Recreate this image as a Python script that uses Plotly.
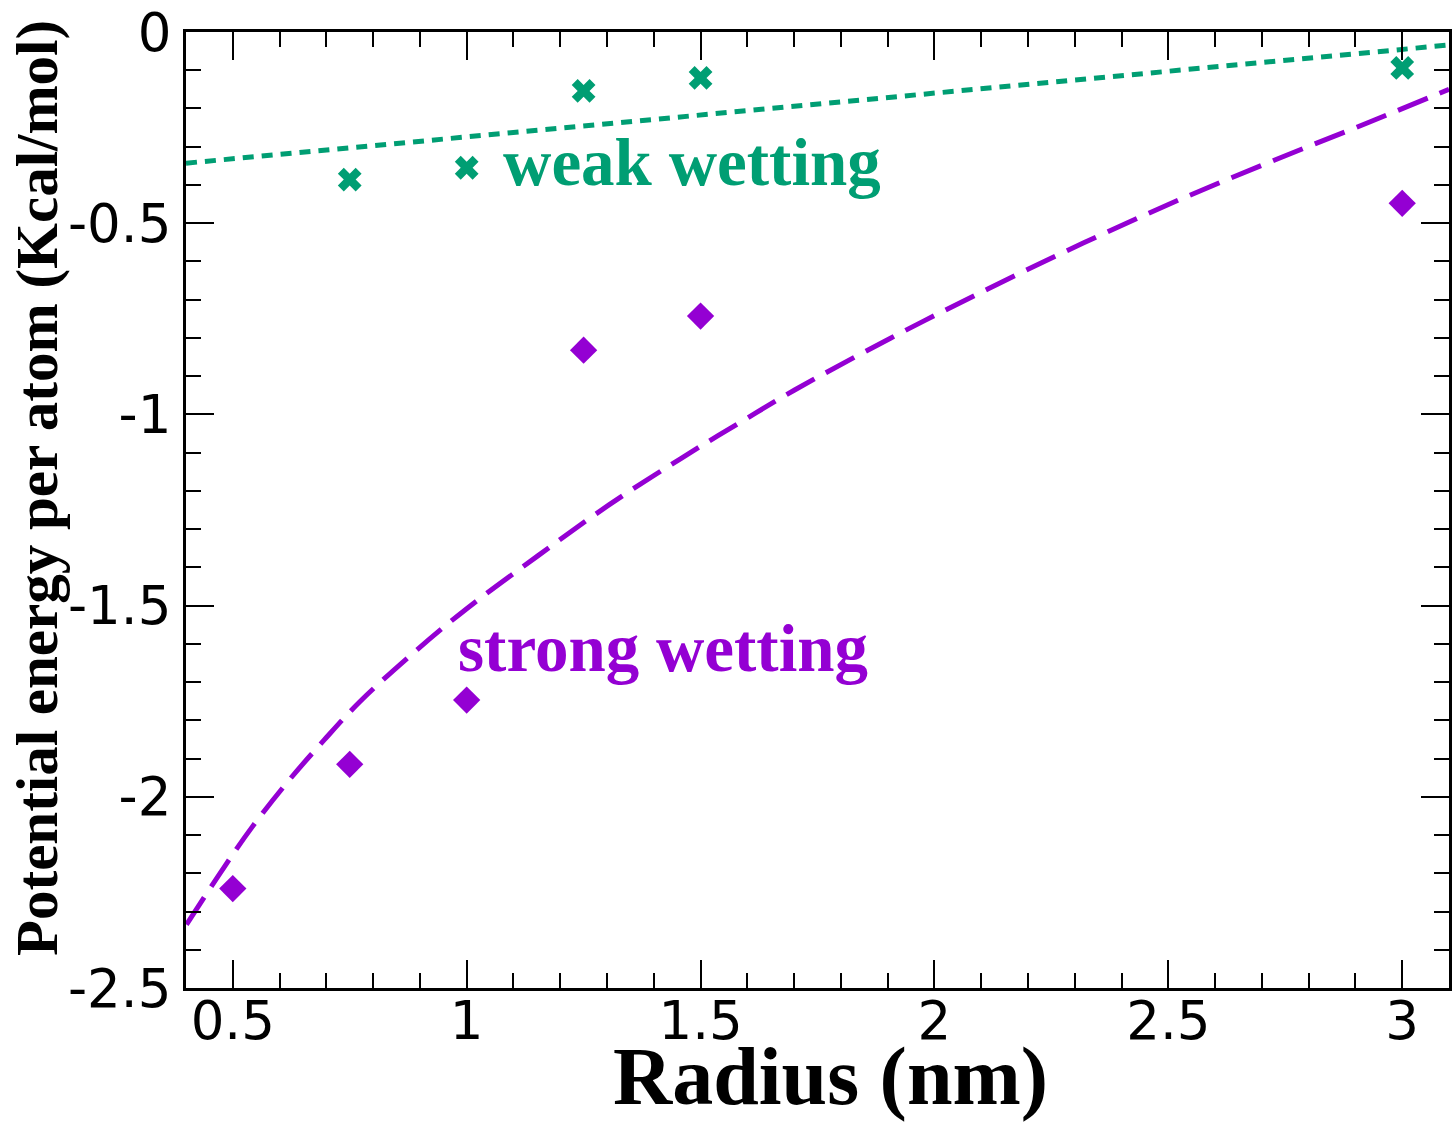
import plotly.graph_objects as go

# ---- data ----
radius = [0.5, 0.75, 1.0, 1.25, 1.5, 3.0]
strong_energy = [-2.24, -1.915, -1.747, -0.832, -0.743, -0.448]

weak_radius = [0.75, 1.0, 1.25, 1.5, 3.0]
weak_energy = [-0.386, -0.355, -0.154, -0.12, -0.094]

# fitted curves
strong_fit_x = [0.401, 0.481, 0.542, 0.618, 0.695, 0.771, 0.885, 1.0, 1.152, 1.305,
                1.457, 1.579, 1.703, 1.907, 2.114, 2.318, 2.521, 2.725, 2.929, 3.1]
strong_fit_y = [-2.334, -2.185, -2.078, -1.960, -1.852, -1.752, -1.625, -1.508, -1.370, -1.236,
                -1.116, -1.025, -0.935, -0.800, -0.672, -0.552, -0.440, -0.336, -0.236, -0.150]

weak_fit_x = [0.4, 1.18, 1.5, 2.354, 3.1]
weak_fit_y = [-0.343, -0.254, -0.217, -0.119, -0.034]

x_tickvals = [0.5, 1.0, 1.5, 2.0, 2.5, 3.0]
x_ticktext = ["0.5", "1", "1.5", "2", "2.5", "3"]
y_tickvals = [0, -0.5, -1.0, -1.5, -2.0, -2.5]
y_ticktext = ["0", "-0.5", "-1", "-1.5", "-2", "-2.5"]

PURPLE = "#9400d3"
GREEN = "#009e73"

fig = go.Figure()

fig.add_trace(go.Scatter(x=weak_fit_x, y=weak_fit_y, mode="lines",
                         line=dict(color=GREEN, width=5, dash="11px,8px"),
                         showlegend=False, hoverinfo="skip"))
fig.add_trace(go.Scatter(x=strong_fit_x, y=strong_fit_y, mode="lines",
                         line=dict(color=PURPLE, width=5, dash="32px,13px", shape="spline",
                                   smoothing=1.0),
                         showlegend=False, hoverinfo="skip"))
fig.add_trace(go.Scatter(x=weak_radius, y=weak_energy, mode="markers",
                         marker=dict(symbol="x", size=21, color=GREEN, line=dict(width=0)),
                         showlegend=False))
fig.add_trace(go.Scatter(x=radius, y=strong_energy, mode="markers",
                         marker=dict(symbol="diamond", size=21, color=PURPLE, line=dict(width=0)),
                         showlegend=False))

axis_common = dict(
    showgrid=False, zeroline=False, showline=True, linecolor="black", linewidth=3,
    mirror="ticks", ticks="inside", ticklen=28, tickwidth=2, tickcolor="black",
    tickfont=dict(family="DejaVu Sans", size=53, color="black"),
)

fig.update_xaxes(range=[0.4, 3.1], tickvals=x_tickvals, ticktext=x_ticktext,
                 minor=dict(dtick=0.1, tick0=0, ticks="inside", ticklen=15, tickwidth=2,
                            tickcolor="black", showgrid=False),
                 ticklabelstandoff=-16, **axis_common)
fig.update_yaxes(range=[-2.5, 0], tickvals=y_tickvals, ticktext=y_ticktext,
                 minor=dict(dtick=0.1, tick0=0, ticks="inside", ticklen=15, tickwidth=2,
                            tickcolor="black", showgrid=False),
                 ticklabelstandoff=1, **axis_common)

fig.add_annotation(x=1.073, y=-0.34, xref="x", yref="y", text="weak wetting",
                   showarrow=False, xanchor="left", yanchor="middle",
                   font=dict(family="Liberation Serif", size=67, color=GREEN, weight="bold"))
fig.add_annotation(x=0.977, y=-1.611, xref="x", yref="y", text="strong wetting",
                   showarrow=False, xanchor="left", yanchor="middle",
                   font=dict(family="Liberation Serif", size=67, color=PURPLE, weight="bold"))

# axis titles
fig.add_annotation(xref="paper", yref="paper", x=(830 - 186) / (1449 - 186),
                   y=-(1124 - 988) / (988 - 32), text="Radius (nm)",
                   showarrow=False, xanchor="center", yanchor="bottom",
                   font=dict(family="Liberation Serif", size=82, color="black", weight="bold"))
fig.add_annotation(xref="paper", yref="paper", x=-(186 - 37) / (1449 - 186),
                   y=(988 - 488) / (988 - 32), text="Potential energy per atom (Kcal/mol)",
                   textangle=-90, showarrow=False, xanchor="center", yanchor="middle",
                   font=dict(family="Liberation Serif", size=59, color="black", weight="bold"))

fig.update_layout(width=1455, height=1128, plot_bgcolor="white", paper_bgcolor="white",
                  margin=dict(l=186, r=6, t=32, b=140, autoexpand=False))

fig.write_html("out.html")
